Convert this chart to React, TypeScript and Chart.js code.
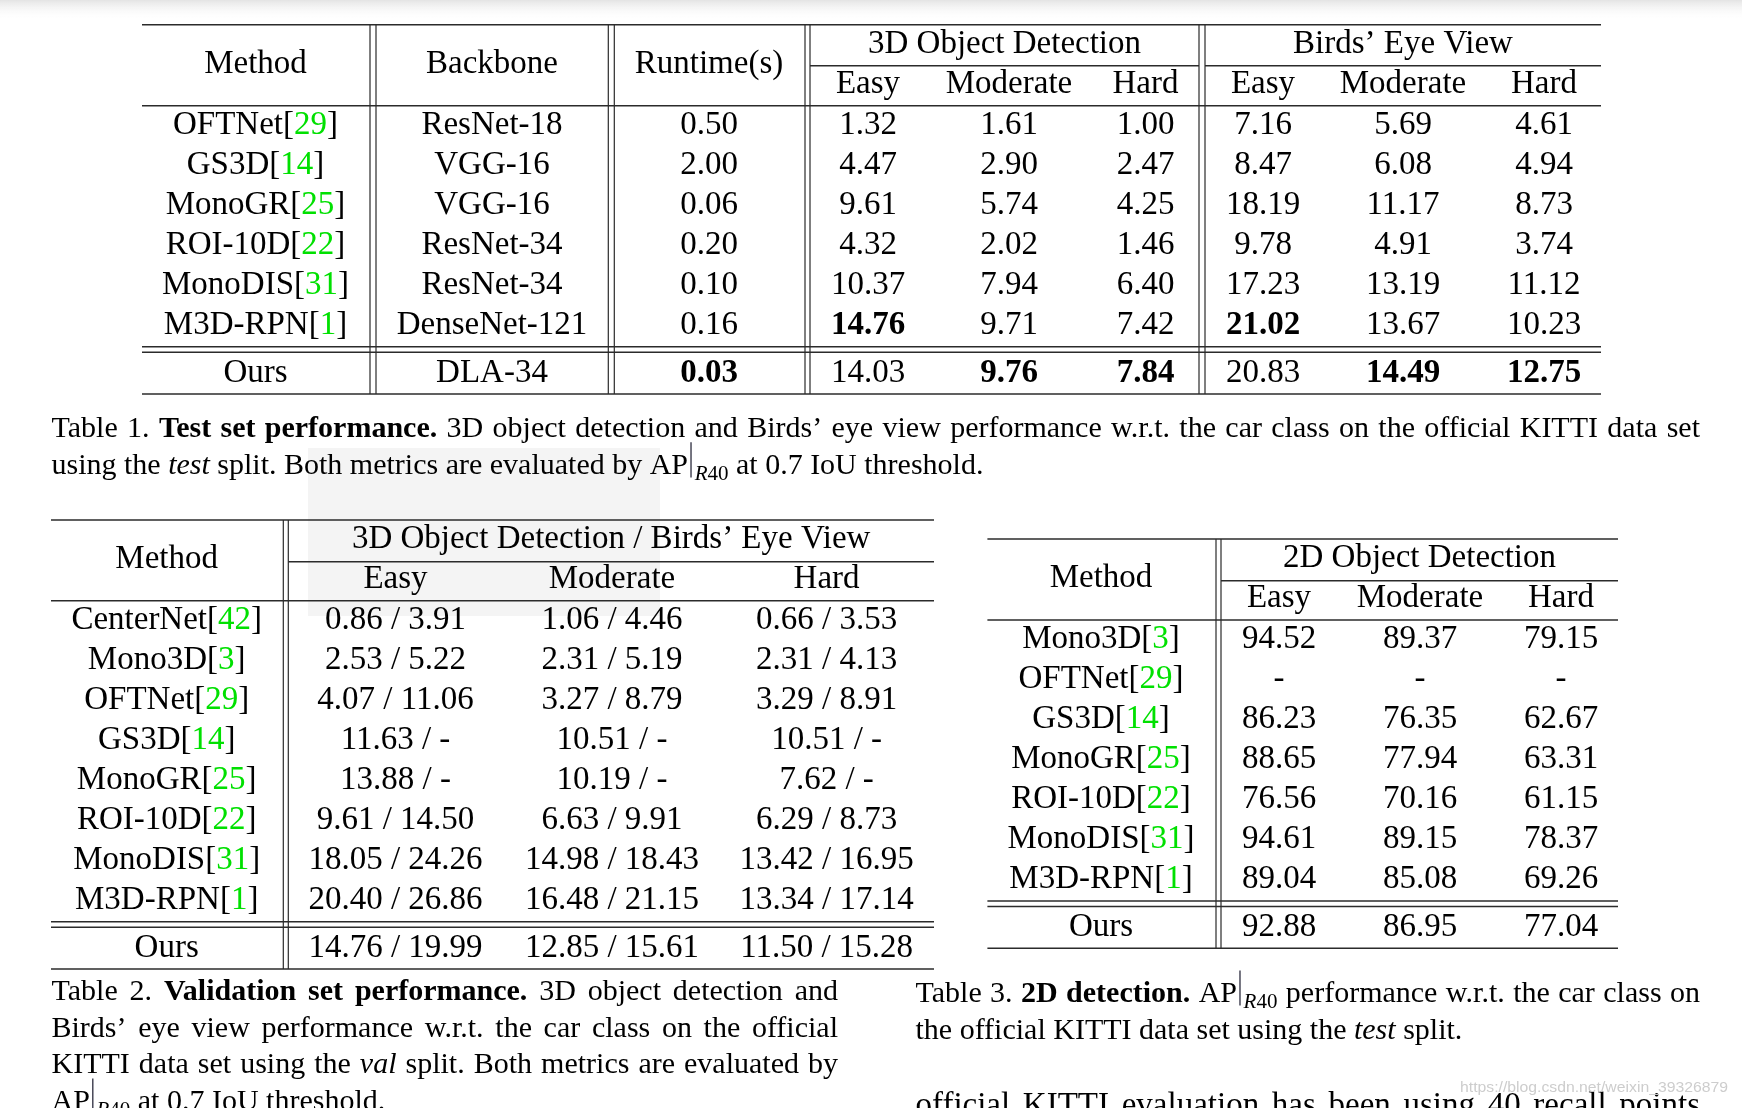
import React, { useEffect, useRef } from "react";
import { Chart, registerables } from "chart.js";
Chart.register(...registerables);

const W = 1742;
const H = 1108;
const SERIF = '"Liberation Serif", "Times New Roman", "DejaVu Serif", serif';
const SANS = '"Liberation Sans", Arial, "DejaVu Sans", sans-serif';
const F_TABLE = 33;
const F_CAP = 30;
const INK = "#000000";
const GREEN = "#00e000";
const RULE = "#2b2b2b";

// ---------------- DATA ----------------
// Table 1 (test set)
const t1Head = ["Method", "Backbone", "Runtime(s)"];
const t1Groups = ["3D Object Detection", "Birds’ Eye View"];
const t1Subs = ["Easy", "Moderate", "Hard", "Easy", "Moderate", "Hard"];
const t1Methods = ["OFTNet[29]", "GS3D[14]", "MonoGR[25]", "ROI-10D[22]", "MonoDIS[31]", "M3D-RPN[1]"];
const t1Backbones = ["ResNet-18", "VGG-16", "VGG-16", "ResNet-34", "ResNet-34", "DenseNet-121"];
const t1Runtime = ["0.50", "2.00", "0.06", "0.20", "0.10", "0.16"];
const t1Det3D = [
  ["1.32", "1.61", "1.00"],
  ["4.47", "2.90", "2.47"],
  ["9.61", "5.74", "4.25"],
  ["4.32", "2.02", "1.46"],
  ["10.37", "7.94", "6.40"],
  ["**14.76**", "9.71", "7.42"],
];
const t1Bev = [
  ["7.16", "5.69", "4.61"],
  ["8.47", "6.08", "4.94"],
  ["18.19", "11.17", "8.73"],
  ["9.78", "4.91", "3.74"],
  ["17.23", "13.19", "11.12"],
  ["**21.02**", "13.67", "10.23"],
];
const t1Ours = ["Ours", "DLA-34", "**0.03**", "14.03", "**9.76**", "**7.84**", "20.83", "**14.49**", "**12.75**"];

// Table 2 (validation set)
const t2Head = ["Method"];
const t2Groups = ["3D Object Detection / Birds’ Eye View"];
const t2Subs = ["Easy", "Moderate", "Hard"];
const t2Methods = ["CenterNet[42]", "Mono3D[3]", "OFTNet[29]", "GS3D[14]", "MonoGR[25]", "ROI-10D[22]", "MonoDIS[31]", "M3D-RPN[1]"];
const t2Det3D: number[][] = [
  [0.86, 1.06, 0.66],
  [2.53, 2.31, 2.31],
  [4.07, 3.27, 3.29],
  [11.63, 10.51, 10.51],
  [13.88, 10.19, 7.62],
  [9.61, 6.63, 6.29],
  [18.05, 14.98, 13.42],
  [20.4, 16.48, 13.34],
];
const t2Bev: (number | null)[][] = [
  [3.91, 4.46, 3.53],
  [5.22, 5.19, 4.13],
  [11.06, 8.79, 8.91],
  [null, null, null],
  [null, null, null],
  [14.5, 9.91, 8.73],
  [24.26, 18.43, 16.95],
  [26.86, 21.15, 17.14],
];
const t2Ours3D = [14.76, 12.85, 11.5];
const t2OursBev = [19.99, 15.61, 15.28];

// Table 3 (2D detection)
const t3Head = ["Method"];
const t3Groups = ["2D Object Detection"];
const t3Subs = ["Easy", "Moderate", "Hard"];
const t3Methods = ["Mono3D[3]", "OFTNet[29]", "GS3D[14]", "MonoGR[25]", "ROI-10D[22]", "MonoDIS[31]", "M3D-RPN[1]"];
const t3Det2D: (number | null)[][] = [
  [94.52, 89.37, 79.15],
  [null, null, null],
  [86.23, 76.35, 62.67],
  [88.65, 77.94, 63.31],
  [76.56, 70.16, 61.15],
  [94.61, 89.15, 78.37],
  [89.04, 85.08, 69.26],
];
const t3Ours = [92.88, 86.95, 77.04];

// Captions
const cap1 = [
  "Table 1. **Test set performance.** 3D object detection and Birds’ eye view performance w.r.t. the car class on the official KITTI data set",
  "using the *test* split. Both metrics are evaluated by AP|R40 at 0.7 IoU threshold.",
];
const cap2 = [
  "Table 2. **Validation set performance.** 3D object detection and",
  "Birds’ eye view performance w.r.t. the car class on the official",
  "KITTI data set using the *val* split. Both metrics are evaluated by",
  "AP|R40 at 0.7 IoU threshold.",
];
const cap3 = [
  "Table 3. **2D detection.** AP|R40 performance w.r.t. the car class on",
  "the official KITTI data set using the *test* split.",
];
const bodyLines = ["official KITTI evaluation has been using 40 recall points"];
const watermark = "https://blog.csdn.net/weixin_39326879";

// ---------------- LAYOUT ----------------
type Layout = {
  left: number; right: number; top: number; groupRule: number; headRule: number;
  row0: number; pitch: number; vlines: number[][]; cols: number[]; groupSpans: number[][];
};
const L1: Layout = {
  left: 142, right: 1601, top: 24.7, groupRule: 65.7, headRule: 105.7, row0: 133.5, pitch: 40,
  vlines: [[370, 376], [608.3, 614.3], [805, 810], [1199, 1205]],
  cols: [255.5, 492, 709, 868, 1009, 1145.5, 1263, 1403, 1544],
  groupSpans: [[810, 1199], [1205, 1601]],
};
const L2: Layout = {
  left: 51, right: 934, top: 520, groupRule: 561.7, headRule: 600.7, row0: 628.5, pitch: 40,
  vlines: [[283.3, 288.3]],
  cols: [166.7, 395.5, 612, 826.6],
  groupSpans: [[288.3, 934]],
};
const L3: Layout = {
  left: 987.4, right: 1618, top: 539, groupRule: 580.7, headRule: 620, row0: 647.8, pitch: 40,
  vlines: [[1216, 1221]],
  cols: [1101, 1279, 1420, 1561],
  groupSpans: [[1221, 1618]],
};

type TextItem = { x: number; y: number; text: string; align: "center" | "left" | "justify"; F: number; right?: number };
type Rule = { x1: number; y1: number; x2: number; y2: number; w: number };

const fmt = (v: number | null) => (v === null ? "-" : v.toFixed(2));

function buildTable(L: Layout, head: string[], groups: string[], subs: string[], body: string[][], ours: string[]) {
  const texts: TextItem[] = [];
  const rules: Rule[] = [];
  const k = head.length;
  head.forEach((t, i) => texts.push({ x: L.cols[i], y: L.top + 48.3, text: t, align: "center", F: F_TABLE }));
  groups.forEach((g, i) => {
    const [a, b] = L.groupSpans[i];
    texts.push({ x: (a + b) / 2, y: L.top + 27.8, text: g, align: "center", F: F_TABLE });
    rules.push({ x1: a, y1: L.groupRule, x2: b, y2: L.groupRule, w: 1.5 });
  });
  subs.forEach((t, i) => texts.push({ x: L.cols[k + i], y: L.headRule - 13.2, text: t, align: "center", F: F_TABLE }));
  body.forEach((row, r) =>
    row.forEach((t, c) => texts.push({ x: L.cols[c], y: L.row0 + r * L.pitch, text: t, align: "center", F: F_TABLE }))
  );
  const last = L.row0 + (body.length - 1) * L.pitch;
  ours.forEach((t, c) => texts.push({ x: L.cols[c], y: last + 48.2, text: t, align: "center", F: F_TABLE }));
  const bottom = last + 60.5;
  [L.top, L.headRule, last + 13.2, last + 18.8, bottom].forEach((y) =>
    rules.push({ x1: L.left, y1: y, x2: L.right, y2: y, w: 1.5 })
  );
  L.vlines.forEach((pair) => pair.forEach((x) => rules.push({ x1: x, y1: L.top, x2: x, y2: bottom, w: 1.2 })));
  return { texts, rules };
}

const T1 = buildTable(
  L1, t1Head, t1Groups, t1Subs,
  t1Methods.map((m, i) => [m, t1Backbones[i], t1Runtime[i], ...t1Det3D[i], ...t1Bev[i]]),
  t1Ours
);
const T2 = buildTable(
  L2, t2Head, t2Groups, t2Subs,
  t2Methods.map((m, i) => [m, ...t2Det3D[i].map((v, j) => `${fmt(v)} / ${fmt(t2Bev[i][j])}`)]),
  ["Ours", ...t2Ours3D.map((v, j) => `${fmt(v)} / ${fmt(t2OursBev[j])}`)]
);
const T3 = buildTable(
  L3, t3Head, t3Groups, t3Subs,
  t3Methods.map((m, i) => [m, ...t3Det2D[i].map(fmt)]),
  ["Ours", ...t3Ours.map(fmt)]
);

function captionItems(lines: string[], x: number, right: number, baselines: number[], F: number, justifyLast = false): TextItem[] {
  return lines.map((t, i) => ({
    x, y: baselines[i], text: t, F, right,
    align: i < lines.length - 1 || justifyLast ? "justify" : "left",
  }));
}

const TEXTS: TextItem[] = [
  ...T1.texts, ...T2.texts, ...T3.texts,
  ...captionItems(cap1, 51.5, 1700, [437.3, 473.8], F_CAP),
  ...captionItems(cap2, 51.5, 838, [999.8, 1036.5, 1073.2, 1109.9], F_CAP),
  ...captionItems(cap3, 915.5, 1700, [1002, 1038.6], F_CAP),
  ...captionItems(bodyLines, 915.5, 1700, [1115], F_TABLE, true),
];
const RULES: Rule[] = [...T1.rules, ...T2.rules, ...T3.rules];

// ---------------- RICH TEXT ----------------
type Seg = { t: string; s: string };
function parse(str: string): Seg[] {
  const out: Seg[] = [];
  const re = /\*\*(.+?)\*\*|\*(.+?)\*|\[(\d+)\]|\|R40/g;
  let last = 0;
  let m: RegExpExecArray | null;
  while ((m = re.exec(str))) {
    if (m.index > last) out.push({ t: str.slice(last, m.index), s: "n" });
    if (m[1] !== undefined) out.push({ t: m[1], s: "b" });
    else if (m[2] !== undefined) out.push({ t: m[2], s: "i" });
    else if (m[3] !== undefined) {
      out.push({ t: "[", s: "n" });
      out.push({ t: m[3], s: "g" });
      out.push({ t: "]", s: "n" });
    } else {
      out.push({ t: "", s: "bar" });
      out.push({ t: "R", s: "subi" });
      out.push({ t: "40", s: "sub" });
    }
    last = re.lastIndex;
  }
  if (last < str.length) out.push({ t: str.slice(last), s: "n" });
  return out;
}
function fontFor(s: string, F: number) {
  if (s === "b") return `bold ${F}px ${SERIF}`;
  if (s === "i") return `italic ${F}px ${SERIF}`;
  if (s === "subi") return `italic ${F * 0.7}px ${SERIF}`;
  if (s === "sub") return `${F * 0.7}px ${SERIF}`;
  return `${F}px ${SERIF}`;
}
function segWidth(ctx: CanvasRenderingContext2D, seg: Seg, F: number) {
  if (seg.s === "bar") return F * 0.22;
  ctx.font = fontFor(seg.s, F);
  return ctx.measureText(seg.t).width;
}
function drawSegs(ctx: CanvasRenderingContext2D, segs: Seg[], x: number, y: number, F: number) {
  let cx = x;
  for (const seg of segs) {
    const w = segWidth(ctx, seg, F);
    if (seg.s === "bar") {
      ctx.save();
      ctx.strokeStyle = "#1a1a2e";
      ctx.lineWidth = 1.2;
      ctx.beginPath();
      ctx.moveTo(cx + w * 0.45, y - F * 1.05);
      ctx.lineTo(cx + w * 0.45, y + F * 0.12);
      ctx.stroke();
      ctx.restore();
    } else {
      ctx.font = fontFor(seg.s, F);
      ctx.fillStyle = seg.s === "g" ? GREEN : INK;
      const dy = seg.s === "sub" || seg.s === "subi" ? F * 0.2 : 0;
      ctx.fillText(seg.t, cx, y + dy);
    }
    cx += w;
  }
}
function splitWords(segs: Seg[]): Seg[][] {
  const words: Seg[][] = [];
  let cur: Seg[] = [];
  for (const seg of segs) {
    if (seg.s === "bar" || seg.t.indexOf(" ") < 0) {
      cur.push(seg);
      continue;
    }
    seg.t.split(" ").forEach((p, i) => {
      if (i > 0) {
        if (cur.length) words.push(cur);
        cur = [];
      }
      if (p) cur.push({ t: p, s: seg.s });
    });
  }
  if (cur.length) words.push(cur);
  return words;
}

const tablePlugin = {
  id: "tableText",
  beforeDatasetsDraw(chart: any) {
    const ctx: CanvasRenderingContext2D = chart.ctx;
    const px = (v: number) => chart.scales.x.getPixelForValue(v);
    const py = (v: number) => chart.scales.y.getPixelForValue(v);
    ctx.save();
    const g = ctx.createLinearGradient(0, py(0), 0, py(20));
    g.addColorStop(0, "#e4e4e4");
    g.addColorStop(1, "rgba(255,255,255,0)");
    ctx.fillStyle = g;
    ctx.fillRect(px(0), py(0), px(W) - px(0), py(20) - py(0));
    ctx.fillStyle = "#f4f4f4";
    ctx.fillRect(px(308), py(448), px(660) - px(308), py(616) - py(448));
    ctx.restore();
  },
  afterDatasetsDraw(chart: any) {
    const ctx: CanvasRenderingContext2D = chart.ctx;
    const px = (v: number) => chart.scales.x.getPixelForValue(v);
    const py = (v: number) => chart.scales.y.getPixelForValue(v);
    ctx.save();
    ctx.textBaseline = "alphabetic";
    ctx.textAlign = "left";
    for (const it of TEXTS) {
      const segs = parse(it.text);
      const x = px(it.x);
      const y = py(it.y);
      if (it.align === "justify") {
        const words = splitWords(segs);
        const ws = words.map((w) => w.reduce((a, s) => a + segWidth(ctx, s, it.F), 0));
        const total = ws.reduce((a, b) => a + b, 0);
        const target = px(it.right as number) - x;
        const gap = words.length > 1 ? (target - total) / (words.length - 1) : 0;
        let cx = x;
        words.forEach((w, i) => {
          drawSegs(ctx, w, cx, y, it.F);
          cx += ws[i] + gap;
        });
      } else {
        const width = segs.reduce((a, s) => a + segWidth(ctx, s, it.F), 0);
        drawSegs(ctx, segs, it.align === "center" ? x - width / 2 : x, y, it.F);
      }
    }
    // watermark
    ctx.font = `15px ${SANS}`;
    const ww = ctx.measureText(watermark).width;
    const x0 = px(1460), x1 = px(1728);
    ctx.translate(x0, py(1092));
    ctx.scale((x1 - x0) / ww, 1);
    ctx.fillStyle = "#cdcdcd";
    ctx.fillText(watermark, 0, 0);
    ctx.restore();
  },
};

export default function App() {
  const ref = useRef<HTMLCanvasElement | null>(null);
  useEffect(() => {
    if (!ref.current) return;
    const chart = new Chart(ref.current, {
      type: "scatter",
      data: {
        datasets: RULES.map((r) => ({
          data: [{ x: r.x1, y: r.y1 }, { x: r.x2, y: r.y2 }],
          showLine: true,
          borderColor: RULE,
          borderWidth: r.w,
          pointRadius: 0,
          pointHoverRadius: 0,
          fill: false,
          tension: 0,
        })),
      },
      options: {
        animation: false,
        responsive: false,
        maintainAspectRatio: false,
        devicePixelRatio: 1,
        events: [],
        layout: { padding: 0 },
        plugins: { legend: { display: false }, tooltip: { enabled: false } },
        scales: {
          x: { type: "linear", min: 0, max: W, display: false },
          y: { type: "linear", min: 0, max: H, reverse: true, display: false },
        },
      },
      plugins: [tablePlugin],
    } as any);
    return () => chart.destroy();
  }, []);
  return (
    <div style={{ position: "absolute", left: 0, top: 0, width: W, height: H, overflow: "hidden", background: "#fff" }}>
      <canvas ref={ref} width={W} height={H} style={{ display: "block" }} />
    </div>
  );
}
